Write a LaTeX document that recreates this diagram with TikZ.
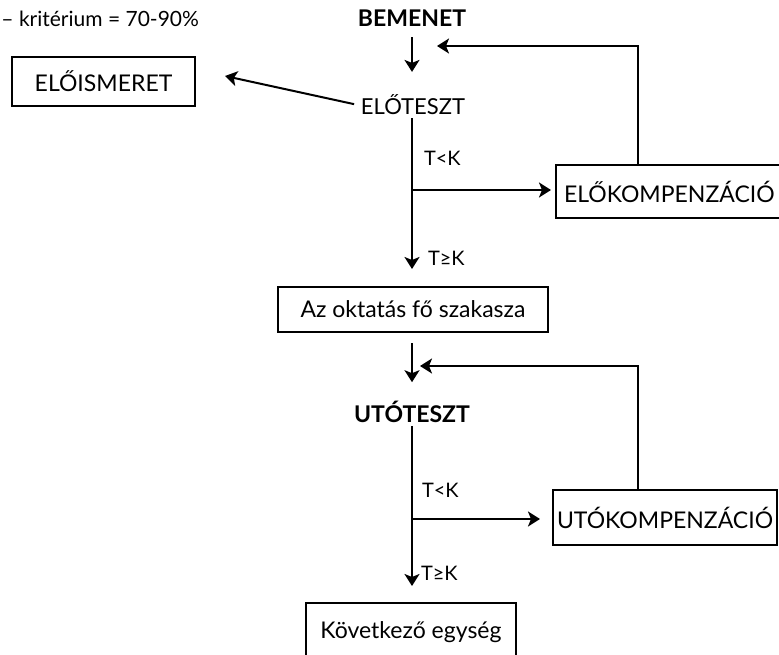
\documentclass[tikz,border=0pt]{standalone}
\usepackage{fontspec}
\setmainfont{Lato}
\usetikzlibrary{arrows.meta,calc}
\begin{document}
\begin{tikzpicture}[x=1pt,y=-1pt,
  line width=2pt,
  arr/.style={-{Stealth[length=12pt,width=15pt,inset=3pt]}},
  box/.style={draw,line width=2pt,inner sep=0pt,font=\fontsize{23}{26}\selectfont},
  txt/.style={inner sep=2pt,font=\fontsize{22}{26}\selectfont},
  btxt/.style={inner sep=2pt,font=\fontsize{23}{26}\selectfont\bfseries},
  lbl/.style={inner sep=0pt,font=\fontsize{20}{24}\selectfont,anchor=west}]
\useasboundingbox (0,0) rectangle (779,655);

\node[anchor=west,inner sep=0pt,font=\fontsize{21}{24}\selectfont] (crit) at (0.5,19) {– kritérium = 70-90\%};
\node[btxt] (bemenet) at (412,18) {BEMENET};
\node[txt] (eloteszt) at (413,105) {ELŐTESZT};
\node[box,minimum width=183pt,minimum height=49pt] (eloism) at (103.5,81.5) {ELŐISMERET};
\node[box,anchor=west,minimum height=53pt,inner xsep=8pt] (elokomp) at (555,191.5) {ELŐKOMPENZÁCIÓ};
\node[box,minimum width=270pt,minimum height=45pt] (fo) at (413,309.5) {Az oktatás fő szakasza};
\node[btxt] (utoteszt) at (412,412) {UTÓTESZT};
\node[box,anchor=west,minimum height=55pt,inner xsep=4pt] (utokomp) at (552,517.5) {UTÓKOMPENZÁCIÓ};
\node[box,anchor=north,minimum width=210pt,minimum height=58pt] (kov) at (411,602) {Következő egység};

\node[lbl] (lt1) at (423,158) {T<K};
\node[lbl] (ge1) at (427,258) {T≥K};
\node[lbl] (lt2) at (421,490) {T<K};
\node[lbl] (ge2) at (420,573) {T≥K};

\coordinate (tipA) at (225,76);
\coordinate (fb1) at (437,46);
\coordinate (fb1x) at (638,0);
\coordinate (br1) at (412,190);
\coordinate (fb2) at (420,366);
\coordinate (fb2x) at (638,0);
\coordinate (br2) at (412,519);

\draw[arr,shorten <=8pt,shorten >=20pt] (bemenet) -- (eloteszt.north -| bemenet);
\draw[arr] (elokomp.north -| fb1x) |- (fb1);
\draw[arr,shorten <=4pt] (eloteszt.west) -- (tipA);
\draw[arr,shorten >=17pt] (eloteszt.south -| br1) -- (fo.north -| br1);
\draw[arr,shorten >=4pt] (br1) -- (elokomp.west |- br1);
\draw[arr,shorten <=10pt,shorten >=16pt] (fo.south -| br1) -- (utoteszt.north -| br1);
\draw[arr] (utokomp.north -| fb2x) |- (fb2);
\draw[arr,shorten >=16pt] (utoteszt.south) -- (kov.north -| utoteszt.south);
\draw[arr,shorten >=12pt] (br2) -- (utokomp.west |- br2);
\end{tikzpicture}
\end{document}
